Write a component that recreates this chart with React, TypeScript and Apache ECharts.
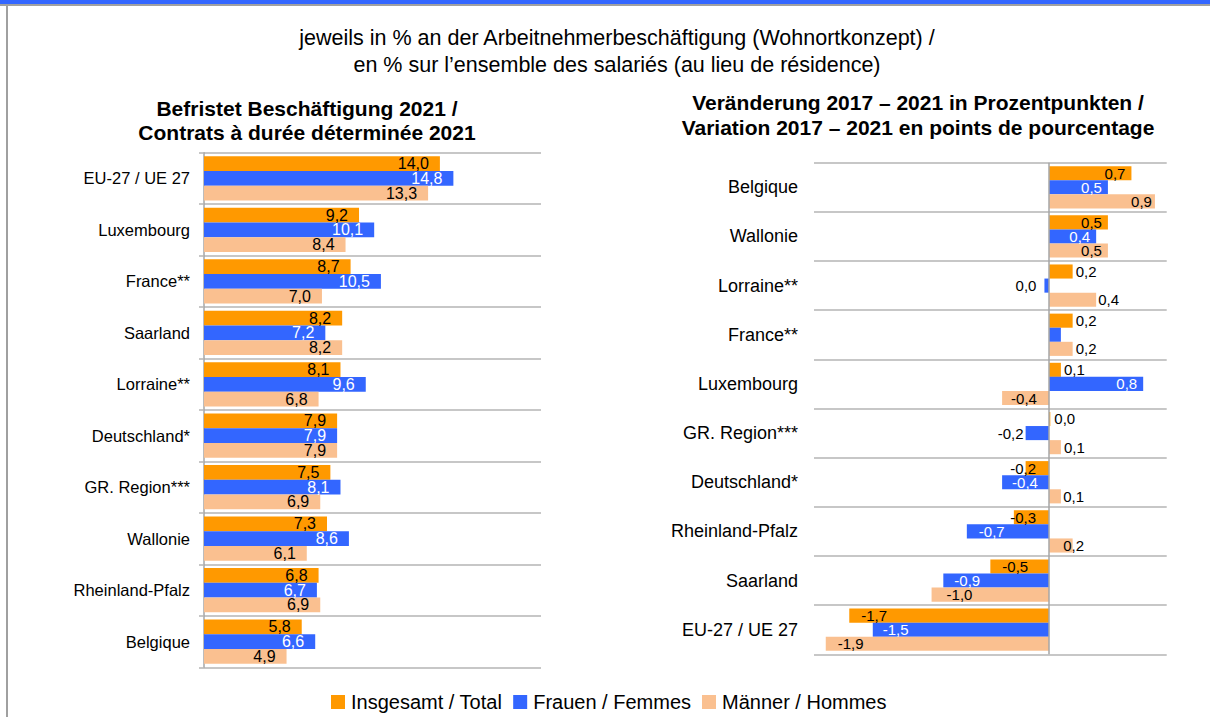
import React, { useEffect, useRef } from "react";
import * as echarts from "echarts";

// Befristete Beschäftigung 2021 (left panel)
const levelCategories = [
  "EU-27 / UE 27",
  "Luxembourg",
  "France**",
  "Saarland",
  "Lorraine**",
  "Deutschland*",
  "GR. Region***",
  "Wallonie",
  "Rheinland-Pfalz",
  "Belgique",
];
const levelTotal = [14.0, 9.2, 8.7, 8.2, 8.1, 7.9, 7.5, 7.3, 6.8, 5.8];
const levelWomen = [14.8, 10.1, 10.5, 7.2, 9.6, 7.9, 8.1, 8.6, 6.7, 6.6];
const levelMen = [13.3, 8.4, 7.0, 8.2, 6.8, 7.9, 6.9, 6.1, 6.9, 4.9];

// Veränderung 2017 – 2021 in Prozentpunkten (right panel)
const changeCategories = [
  "Belgique",
  "Wallonie",
  "Lorraine**",
  "France**",
  "Luxembourg",
  "GR. Region***",
  "Deutschland*",
  "Rheinland-Pfalz",
  "Saarland",
  "EU-27 / UE 27",
];
const changeTotal = [0.7, 0.5, 0.2, 0.2, 0.1, 0.01, -0.2, -0.3, -0.5, -1.7];
const changeWomen = [0.5, 0.4, -0.04, 0.1, 0.8, -0.2, -0.4, -0.7, -0.9, -1.5];
const changeMen = [0.9, 0.5, 0.4, 0.2, -0.4, 0.1, 0.1, 0.2, -1.0, -1.9];

// label placement per bar of the right panel: [position, distance]
const changeTotalPos: [string, number][] = [
  ["insideRight", 6], ["insideRight", 6], ["right", 3], ["right", 3], ["right", 3],
  ["right", 4], ["insideRight", 13], ["insideRight", 13], ["insideLeft", 12], ["insideLeft", 12],
];
const changeWomenPos: [string, number][] = [
  ["insideRight", 6], ["insideRight", 6], ["left", 8], ["none", 0], ["insideRight", 6],
  ["left", 2], ["insideLeft", 10], ["insideLeft", 12], ["insideLeft", 11], ["insideLeft", 10],
];
const changeMenPos: [string, number][] = [
  ["insideRight", 3], ["insideRight", 6], ["right", 2], ["right", 3], ["insideLeft", 9],
  ["right", 3], ["insideLeft", 14], ["insideLeft", 14], ["insideLeft", 15], ["insideLeft", 12],
];

const seriesNames = ["Insgesamt / Total", "Frauen / Femmes", "Männer / Hommes"];
const colors = ["#FF9900", "#3366FF", "#FAC090"];
const labelColors = ["#000000", "#FFFFFF", "#000000"];

const FONT = '"Liberation Sans", Arial, sans-serif';

function fmt(v: number): string {
  let s = v.toFixed(1);
  if (s === "-0.0") s = "0.0";
  return s.replace(".", ",");
}

function changeData(values: number[], pos: [string, number][], insideColor: string) {
  return values.map((v, i) => {
    const [position, distance] = pos[i];
    const outside = position === "left" || position === "right";
    return {
      value: v,
      label:
        position === "none"
          ? { show: false }
          : {
              show: true,
              position,
              distance,
              color: outside ? "#000000" : insideColor,
            },
    };
  });
}

function headline(text: string, x: number, y: number, size: number, bold: boolean) {
  return {
    type: "text",
    x,
    y,
    style: {
      text,
      fontSize: size,
      fontWeight: bold ? "bold" : "normal",
      fontFamily: FONT,
      fill: "#000000",
      align: "center",
      verticalAlign: "middle",
    },
  };
}

export default function App() {
  const ref = useRef<HTMLDivElement>(null);

  useEffect(() => {
    if (!ref.current) return;
    const chart = echarts.init(ref.current, null, { renderer: "svg" });

    const levelSets = [levelTotal, levelWomen, levelMen];
    const changeSets = [
      changeData(changeTotal, changeTotalPos, labelColors[0]),
      changeData(changeWomen, changeWomenPos, labelColors[1]),
      changeData(changeMen, changeMenPos, labelColors[2]),
    ];

    const leftSeries = levelSets.map((data, i) => ({
      name: seriesNames[i],
      type: "bar",
      xAxisIndex: 0,
      yAxisIndex: 0,
      data,
      barGap: "0%",
      barCategoryGap: "14%",
      itemStyle: { color: colors[i] },
      label: {
        show: true,
        position: "insideRight",
        distance: 11,
        color: labelColors[i],
        fontSize: 16,
        fontFamily: FONT,
        formatter: (p: any) => fmt(p.value),
      },
    }));

    const rightSeries = changeSets.map((data, i) => ({
      name: seriesNames[i],
      type: "bar",
      xAxisIndex: 1,
      yAxisIndex: 1,
      data,
      barGap: "0%",
      barCategoryGap: "14%",
      itemStyle: { color: colors[i] },
      label: {
        show: true,
        fontSize: 15,
        fontFamily: FONT,
        formatter: (p: any) => fmt(p.value),
      },
      ...(i === 0
        ? {
            markLine: {
              silent: true,
              symbol: ["none", "none"],
              label: { show: false },
              lineStyle: { color: "#A6A6A6", type: "solid", width: 1.5 },
              data: [{ xAxis: 0 }],
              z: 5,
            },
          }
        : {}),
    }));

    const gridLine = { show: true, lineStyle: { color: "#B4B4B4", width: 1.5 } };

    chart.setOption({
      animation: false,
      backgroundColor: "#FFFFFF",
      textStyle: { fontFamily: FONT },
      grid: [
        { left: 204, top: 152.7, width: 337, height: 514.6 },
        { left: 814, top: 162.7, width: 352.7, height: 491.6 },
      ],
      xAxis: [
        { gridIndex: 0, type: "value", min: 0, max: 20, show: false },
        { gridIndex: 1, type: "value", min: -2, max: 1, show: false },
      ],
      yAxis: [
        {
          gridIndex: 0,
          type: "category",
          inverse: true,
          data: levelCategories,
          axisLine: { show: true, lineStyle: { color: "#A6A6A6", width: 1.5 } },
          axisTick: { show: true, length: 5, lineStyle: { color: "#B4B4B4", width: 1.5 } },
          splitLine: { ...gridLine, interval: 0 },
          axisLabel: { margin: 14, fontSize: 16.5, color: "#000000", fontFamily: FONT, interval: 0 },
        },
        {
          gridIndex: 1,
          type: "category",
          inverse: true,
          data: changeCategories,
          axisLine: { show: false },
          axisTick: { show: false },
          splitLine: { ...gridLine, interval: 0 },
          axisLabel: { margin: 16, fontSize: 18, color: "#000000", fontFamily: FONT, interval: 0 },
        },
      ],
      legend: {
        data: seriesNames,
        top: 692,
        left: 331,
        padding: 0,
        icon: "rect",
        itemWidth: 14,
        itemHeight: 14,
        itemGap: 11,
        textStyle: { fontSize: 20, color: "#000000", fontFamily: FONT, padding: [0, 0, 0, 1] },
      },
      graphic: [
        { type: "rect", shape: { x: 0, y: 0, width: 1210, height: 4 }, style: { fill: "#3366FF" } },
        { type: "rect", shape: { x: 0, y: 4, width: 1210, height: 2 }, style: { fill: "#A0A0A0" } },
        { type: "rect", shape: { x: 6, y: 4, width: 2, height: 713 }, style: { fill: "#A0A0A0" } },
        headline("jeweils in % an der Arbeitnehmerbeschäftigung (Wohnortkonzept) /", 617, 38, 21.5, false),
        headline("en % sur l’ensemble des salariés (au lieu de résidence)", 617, 65, 21.5, false),
        headline("Befristet Beschäftigung 2021 /", 307, 108, 21, true),
        headline("Contrats à durée déterminée 2021", 307, 132, 21, true),
        headline("Veränderung 2017 – 2021 in Prozentpunkten /", 918, 102, 21, true),
        headline("Variation 2017 – 2021 en points de pourcentage", 918, 127, 21, true),
      ],
      series: [...leftSeries, ...rightSeries],
    });

    return () => chart.dispose();
  }, []);

  return (
    <div
      ref={ref}
      style={{ position: "absolute", left: 0, top: 0, width: 1210, height: 717 }}
    />
  );
}
